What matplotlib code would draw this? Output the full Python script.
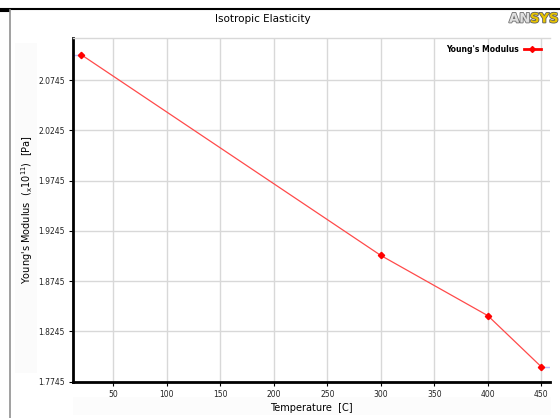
import numpy as np
import matplotlib
matplotlib.use("Agg")
import matplotlib.pyplot as plt
from matplotlib.lines import Line2D
from matplotlib.patches import Rectangle
import matplotlib.patheffects as pe

# Isotropic elasticity table: temperature [C] vs Young's modulus [x1e11 Pa]
temperature = [20, 300, 400, 450]
youngs_modulus = [2.100, 1.900, 1.840, 1.789]
y_ticks = [1.7745, 1.8245, 1.8745, 1.9245, 1.9745, 2.0245, 2.0745]
x_ticks = [50, 100, 150, 200, 250, 300, 350, 400, 450]

x_lo, x_hi = 12.5, 458.0
y_lo, y_hi = 1.7745, 2.1165

fig = plt.figure(figsize=(5.6, 4.18), dpi=100)
fig.patch.set_facecolor("white")

# frame lines of the ANSYS panel
fig.add_artist(Line2D([0, 1], [1 - 9/418, 1 - 9/418], color="black", lw=1.5))
fig.add_artist(Line2D([0, 9/560], [1 - 10.5/418, 1 - 10.5/418], color="black", lw=1.5))
fig.add_artist(Line2D([9.5/560, 9.5/560], [0, 1 - 10/418], color="#909090", lw=1.2))

# faint label backgrounds
fig.add_artist(Rectangle((15/560, 45/418), 22/560, 330/418, transform=fig.transFigure,
                         facecolor="#fbfbfb", edgecolor="none", zorder=0))
fig.add_artist(Rectangle((73/560, 3/418), 478/560, 18/418, transform=fig.transFigure,
                         facecolor="#fcfcfc", edgecolor="none", zorder=0))

ax = fig.add_axes([73/560, 36.5/418, 477/560, 343.5/418])
ax.set_xlim(x_lo, x_hi)
ax.set_ylim(y_lo, y_hi)

ax.plot(temperature, youngs_modulus, color="#ff4a4a", lw=0.9, zorder=3)
ax.plot(temperature, youngs_modulus, linestyle="none", marker="D", ms=3.2,
        color="red", zorder=4)
# extrapolation stubs
ax.plot([x_lo, temperature[0]], [youngs_modulus[0]] * 2, color="#b8bcff", lw=1, zorder=2)
ax.plot([temperature[-1], x_hi], [youngs_modulus[-1]] * 2, color="#b8bcff", lw=1, zorder=2)

handle = Line2D([], [], color="red", lw=2, marker="D", ms=3)
ax.legend([handle], ["Young's Modulus"], loc="upper right", frameon=False,
          markerfirst=False, handlelength=2.2, handletextpad=0.6,
          prop={"size": 5.5, "weight": "bold"}, bbox_to_anchor=(0.995, 1.0))

ax.set_xticks(x_ticks)
ax.set_yticks(y_ticks)
ax.set_yticklabels([f"{v:.4f}" for v in y_ticks])
ax.tick_params(labelsize=5.5, length=3, width=0.8, color="black", pad=3)
for lab in ax.get_xticklabels() + ax.get_yticklabels():
    lab.set_color("#222222")

ax.grid(True, color="#d8d8d8", lw=1)
ax.set_axisbelow(True)
ax.spines["left"].set_linewidth(2)
ax.spines["bottom"].set_linewidth(2)
ax.spines["top"].set_color("#d8d8d8")
ax.spines["top"].set_linewidth(1)
ax.spines["right"].set_visible(False)

ax.set_xlabel("Temperature  [C]", fontsize=7, labelpad=3)
ax.set_ylabel("Young's Modulus  ($_{\\mathregular{x}}$10$^{\\mathregular{11}}$)  [Pa]",
              fontsize=7, labelpad=2)

fig.text(263/560, 1 - 19/418, "Isotropic Elasticity", ha="center", va="center", fontsize=7.5)

# ANSYS logo
fig.text(509/560, 1 - 19/418, "AN", ha="left", va="center", fontsize=9.5,
         fontweight="heavy", color="#e0e0e0",
         path_effects=[pe.withStroke(linewidth=1.2, foreground="#707070")])
fig.text(530/560, 1 - 19/418, "SYS", ha="left", va="center", fontsize=9.5,
         fontweight="heavy", color="#e8c400",
         path_effects=[pe.withStroke(linewidth=1.2, foreground="#606060")])

fig.savefig("out.png", dpi=100)
